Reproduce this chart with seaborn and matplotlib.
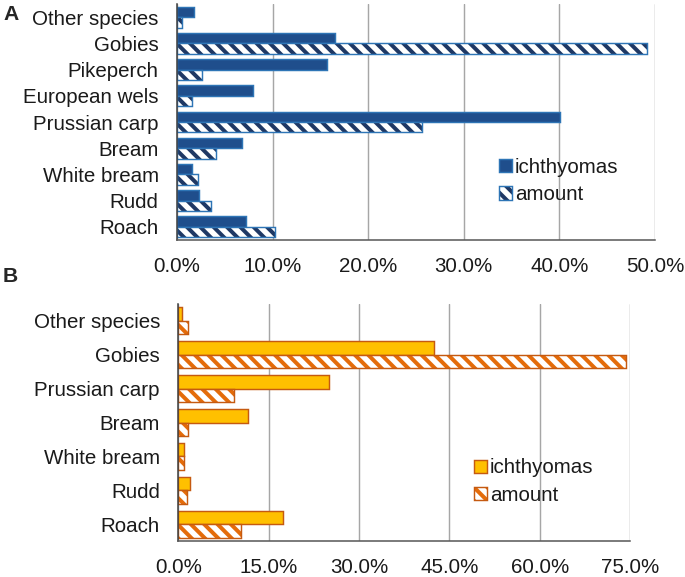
import matplotlib
matplotlib.use("Agg")
import matplotlib.pyplot as plt
import seaborn as sns
import pandas as pd
from matplotlib.colors import to_rgba
from matplotlib.ticker import FuncFormatter

# ---------------- data ----------------
species_a = ["Other species", "Gobies", "Pikeperch", "European wels", "Prussian carp",
             "Bream", "White bream", "Rudd", "Roach"]
ichthyomas_a = [1.8, 16.5, 15.7, 8.0, 40.1, 6.85, 1.6, 2.3, 7.2]
amount_a = [0.55, 49.2, 2.65, 1.6, 25.6, 4.1, 2.15, 3.55, 10.3]

species_b = ["Other species", "Gobies", "Prussian carp", "Bream", "White bream", "Rudd", "Roach"]
ichthyomas_b = [0.67, 42.4, 25.1, 11.5, 0.95, 1.95, 17.4]
amount_b = [1.55, 74.4, 9.3, 1.55, 0.95, 1.5, 10.4]

series_names = ["ichthyomas", "amount"]
xticks_a = [0, 10, 20, 30, 40, 50]
xticks_b = [0, 15, 30, 45, 60, 75]

# ---------------- style ----------------
sns.set_theme(style="white")
DPI = 80
W, H = 685, 577
plt.rcParams["font.family"] = ["Liberation Sans", "DejaVu Sans"]
plt.rcParams["hatch.linewidth"] = 3.6
FS = 18.5

fig = plt.figure(figsize=(W / DPI, H / DPI), dpi=DPI)


def px_axes(l, r, t, b):
    return fig.add_axes([l / W, 1 - b / H, (r - l) / W, (b - t) / H])


def set_hatch_color(p, c):
    if hasattr(p, "set_hatchcolor"):
        try:
            p.set_hatchcolor(c)
            return
        except Exception:
            pass
    p._hatch_color = to_rgba(c)


def panel(ax, cats, ich, amt, fill, edge, hatchc, xmax, xticks, leg_x):
    df = pd.DataFrame({
        "species": cats * 2,
        "value": list(ich) + list(amt),
        "series": [series_names[0]] * len(cats) + [series_names[1]] * len(cats),
    })
    sns.barplot(data=df, y="species", x="value", hue="series", order=cats,
                hue_order=series_names, orient="h", width=0.8, ax=ax,
                palette=[fill, "white"], legend=False, saturation=1)
    for p in ax.containers[0]:
        p.set_facecolor(fill)
        p.set_edgecolor(edge)
        p.set_linewidth(1.3)
    for p in ax.containers[1]:
        p.set_facecolor("white")
        p.set_edgecolor(edge)
        p.set_linewidth(1.3)
        p.set_hatch("\\\\")
        set_hatch_color(p, hatchc)
    ax.set_xlim(0, xmax)
    ax.set_ylim(len(cats) - 0.5, -0.5)
    ax.set_xticks(xticks)
    ax.xaxis.set_major_formatter(FuncFormatter(lambda v, _: f"{v:.1f}%"))
    ax.set_xlabel("")
    ax.set_ylabel("")
    ax.grid(axis="x", color="#a6a6a6", linewidth=1.3)
    ax.set_axisbelow(True)
    for s in ["top", "right"]:
        ax.spines[s].set_visible(False)
    ax.spines["left"].set_color("#404040")
    ax.spines["left"].set_linewidth(1.4)
    ax.spines["bottom"].set_color("#595959")
    ax.spines["bottom"].set_linewidth(1.4)
    ax.tick_params(axis="y", length=0, pad=16.5, labelsize=FS, colors="#1a1a1a")
    ax.tick_params(axis="x", length=0, pad=15.5, labelsize=FS, colors="#1a1a1a")
    handles = [ax.containers[0][0], ax.containers[1][0]]
    leg = ax.legend(handles, series_names, loc="center left",
                    bbox_to_anchor=(leg_x, 0.25), frameon=False, fontsize=FS,
                    handlelength=0.62, handleheight=0.62, handletextpad=0.15,
                    labelspacing=0.42, borderpad=0.3)
    for t in leg.get_texts():
        t.set_color("#1a1a1a")


axA = px_axes(177, 655, 4, 240)
panel(axA, species_a, ichthyomas_a, amount_a, "#1f4e8c", "#2e75b6", "#1f3864", 50, xticks_a, 0.639)

axB = px_axes(178.3, 630, 304, 541)
panel(axB, species_b, ichthyomas_b, amount_b, "#ffc000", "#c55a11", "#e46c0a", 75, xticks_b, 0.618)

fig.text(3 / W, 1 - 14 / H, "A", fontsize=19, fontweight="bold", va="center", ha="left")
fig.text(3 / W, 1 - 276 / H, "B", fontsize=19, fontweight="bold", va="center", ha="left")

fig.savefig("out.png", dpi=DPI, facecolor="white")
